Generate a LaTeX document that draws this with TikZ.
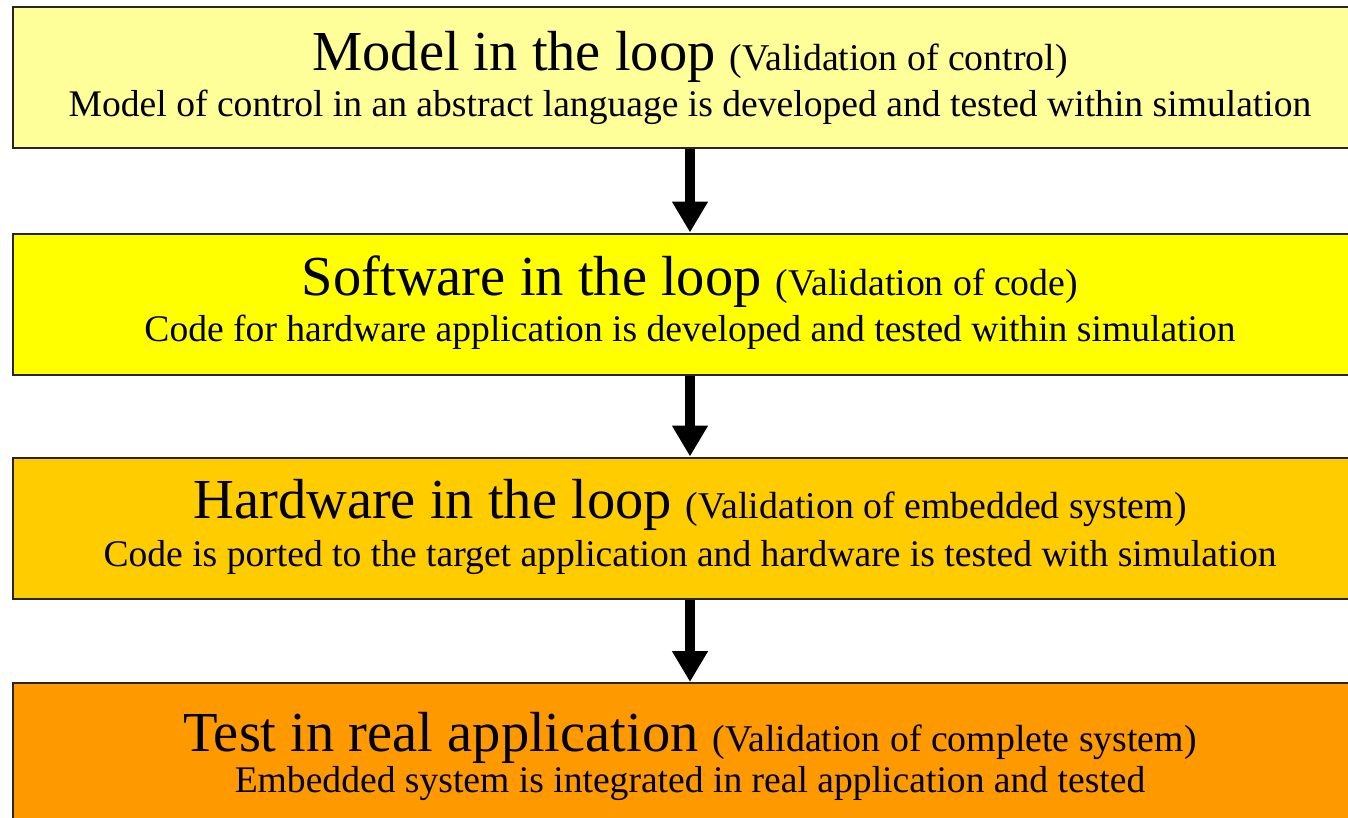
\documentclass[tikz,border=0pt]{standalone}
\usepackage{fontspec}
\setmainfont{Liberation Serif}
\usetikzlibrary{arrows.meta}
\definecolor{cA}{HTML}{FFFF99}
\definecolor{cB}{HTML}{FFFF00}
\definecolor{cC}{HTML}{FFCC00}
\definecolor{cD}{HTML}{FF9900}
\newcommand{\bigtitlefont}{\fontsize{56.5}{60}\selectfont}
\newcommand{\parenfont}{\fontsize{37.8}{40}\selectfont}
\newcommand{\sublinefont}{\fontsize{37.6}{40}\selectfont}
\tikzset{
  stagebox/.style={draw=black!85, line width=2pt, minimum width=1354pt, minimum height=141pt, inner sep=0pt},
  titleline/.style={anchor=base, inner sep=0pt, font=\bigtitlefont},
  subline/.style={anchor=base, inner sep=0pt, font=\sublinefont},
  flow/.style={line width=10pt, black, -{Triangle[width=34pt,length=31pt]}}
}
\begin{document}
\begin{tikzpicture}[x=1pt,y=-1pt]
\useasboundingbox (0,0) rectangle (1348,817);
\clip (0,0) rectangle (1348,817);
\fill[white] (0,0) rectangle (1348,817);
\node[stagebox, fill=cA] (b1) at (690,77.5) {};
\node[stagebox, fill=cB] (b2) at (690,304) {};
\node[stagebox, fill=cC] (b3) at (690,528) {};
\node[stagebox, fill=cD] (b4) at (690,753.5) {};
\node[titleline] (t1) at (690,70) {Model in the loop {\parenfont(Validation of control)}};
\node[subline] (s1) at (690,116) {Model of control in an abstract language is developed and tested within simulation};
\node[titleline] (t2) at (690,295) {Software in the loop {\parenfont(Validation of code)}};
\node[subline] (s2) at (690,341) {Code for hardware application is developed and tested within simulation};
\node[titleline] (t3) at (690,518) {Hardware in the loop {\parenfont(Validation of embedded system)}};
\node[subline] (s3) at (690,566) {Code is ported to the target application and hardware is tested with simulation};
\node[titleline] (t4) at (690,751) {Test in real application {\parenfont(Validation of complete system)}};
\node[subline] (s4) at (690,792) {Embedded system is integrated in real application and tested};
\draw[flow] (b1.south) -- (b2.north);
\draw[flow] (b2.south) -- (b3.north);
\draw[flow] (b3.south) -- (b4.north);
\end{tikzpicture}
\end{document}
